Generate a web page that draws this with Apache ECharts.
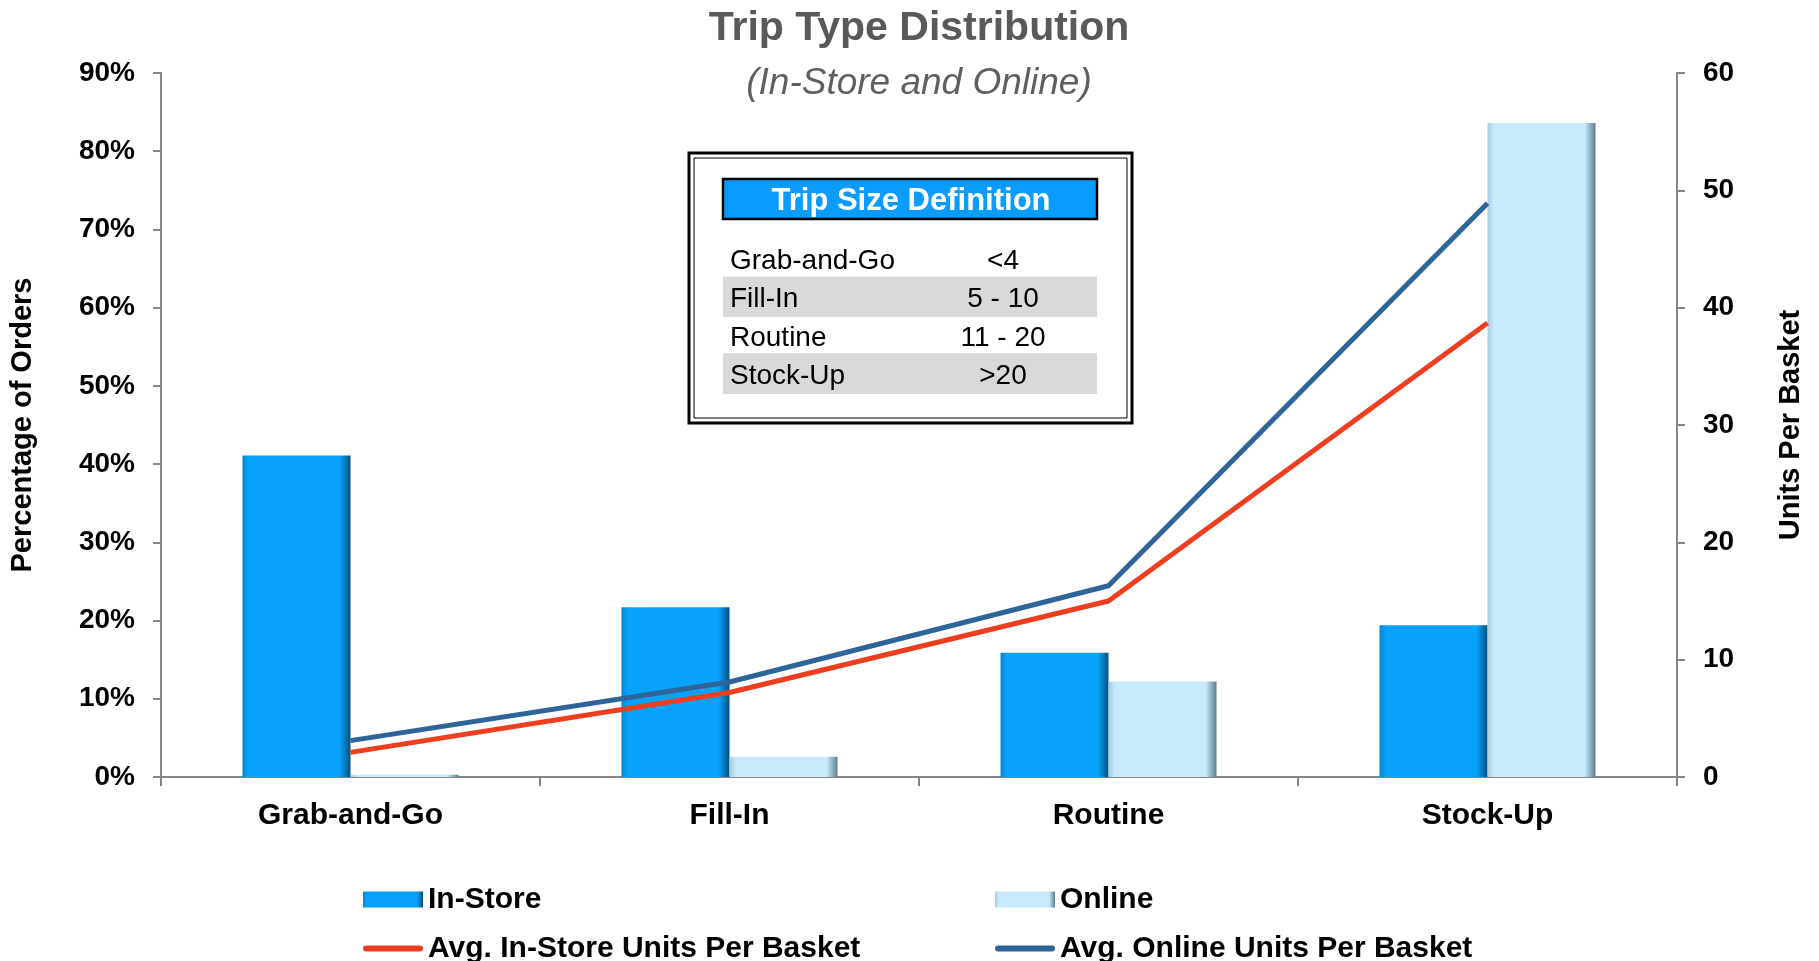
<!DOCTYPE html>
<html>
<head>
<meta charset="utf-8">
<script src="https://cdn.jsdelivr.net/npm/echarts@6/dist/echarts.min.js"></script>
<style>
  html, body { margin: 0; padding: 0; background: #ffffff; }
  #chart { width: 1819px; height: 961px; }
</style>
</head>
<body>
<div id="chart"></div>
<script>
// ---- Data ----
var categories = ['Grab-and-Go', 'Fill-In', 'Routine', 'Stock-Up'];
var inStorePct = [41.1, 21.7, 15.9, 19.4];
var onlinePct = [0.3, 2.6, 12.2, 83.6];
var inStoreUnits = [2.1, 7.2, 15.0, 38.7];
var onlineUnits = [3.1, 8.1, 16.3, 48.9];
var leftTicks = { min: 0, max: 90, interval: 10 };
var rightTicks = { min: 0, max: 60, interval: 10 };
var tripRanges = ['<4', '5 - 10', '11 - 20', '>20'];

var FONT = '"Liberation Sans", Arial, sans-serif';

var chart = echarts.init(document.getElementById('chart'));

function grad(c0, c1, c2) {
  return new echarts.graphic.LinearGradient(0, 0, 1, 0, [
    { offset: 0, color: c0 },
    { offset: 0.06, color: c1 },
    { offset: 0.9, color: c1 },
    { offset: 1, color: c2 }
  ]);
}

// line legend icon: thin rounded bar centred in the 60x16 icon box
var LINE_ICON = 'path://M0 0h0.01v0.01H0z M3 5h54a3 3 0 0 1 0 6h-54a3 3 0 0 1 0-6z M59.99 15.99h0.01v0.01h-0.01z';

// table graphic
var tbl = [];
tbl.push({ type: 'rect', shape: { x: 689, y: 153, width: 443, height: 270 },
  style: { fill: '#ffffff', stroke: '#000000', lineWidth: 3 }, z: 10 });
tbl.push({ type: 'rect', shape: { x: 694, y: 158, width: 433, height: 260 },
  style: { fill: 'none', stroke: '#000000', lineWidth: 1 }, z: 11 });
tbl.push({ type: 'rect', shape: { x: 723, y: 179, width: 374, height: 40 },
  style: { fill: '#0A9BFF', stroke: '#000000', lineWidth: 2.5 }, z: 11 });
tbl.push({ type: 'text', x: 911, y: 201, z: 12,
  style: { text: 'Trip Size Definition', fill: '#ffffff', font: 'bold 31px ' + FONT,
    textAlign: 'center', textVerticalAlign: 'middle' } });
for (var i = 0; i < categories.length; i++) {
  var cy = 258.5 + i * 38.4;
  if (i % 2 === 1) {
    tbl.push({ type: 'rect', shape: { x: 723, y: cy - 20.5, width: 374, height: 40.7 },
      style: { fill: '#D9D9D9' }, z: 11 });
  }
  tbl.push({ type: 'text', x: 730, y: cy + 2.5, z: 12,
    style: { text: categories[i], fill: '#000000', font: '28px ' + FONT,
      textAlign: 'left', textVerticalAlign: 'middle' } });
  tbl.push({ type: 'text', x: 1003, y: cy + 2.5, z: 12,
    style: { text: tripRanges[i], fill: '#000000', font: '28px ' + FONT,
      textAlign: 'center', textVerticalAlign: 'middle' } });
}

var legendText = { fontFamily: FONT, fontSize: 30, fontWeight: 'bold', color: '#000', lineHeight: 31 };

var option = {
  backgroundColor: '#ffffff',
  animation: false,
  title: {
    text: 'Trip Type Distribution',
    subtext: '(In-Store and Online)',
    left: 914,
    textAlign: 'center',
    top: 1,
    itemGap: 11,
    textStyle: { fontFamily: FONT, fontSize: 41, fontWeight: 'bold', color: '#595959', lineHeight: 46 },
    subtextStyle: { fontFamily: FONT, fontSize: 37, fontStyle: 'italic', color: '#5f5f5f', lineHeight: 42 }
  },
  legend: [
    {
      orient: 'vertical', left: 363, top: 884, height: 120, padding: 0, itemGap: 18,
      itemWidth: 60, itemHeight: 16, textStyle: legendText,
      data: [{ name: 'In-Store', icon: 'rect' }, { name: 'Avg. In-Store Units Per Basket', icon: LINE_ICON }]
    },
    {
      orient: 'vertical', left: 995, top: 884, height: 120, padding: 0, itemGap: 18,
      itemWidth: 60, itemHeight: 16, textStyle: legendText,
      data: [{ name: 'Online', icon: 'rect' }, { name: 'Avg. Online Units Per Basket', icon: LINE_ICON }]
    }
  ],
  grid: { left: 159, right: 142, top: 73, bottom: 184, containLabel: false },
  xAxis: {
    type: 'category',
    data: categories,
    boundaryGap: true,
    axisLine: { lineStyle: { color: '#858585', width: 2 } },
    axisTick: { show: true, length: 9, alignWithLabel: false, lineStyle: { color: '#858585', width: 2 } },
    axisLabel: { margin: 24, fontFamily: FONT, fontSize: 30, fontWeight: 'bold', color: '#000' },
    splitLine: { show: false }
  },
  yAxis: [
    {
      type: 'value', position: 'left',
      min: leftTicks.min, max: leftTicks.max, interval: leftTicks.interval,
      name: 'Percentage of Orders', nameLocation: 'middle', nameRotate: 90, nameGap: 124,
      nameTextStyle: { fontFamily: FONT, fontSize: 29, fontWeight: 'bold', color: '#000' },
      axisLine: { show: true, lineStyle: { color: '#858585', width: 2 } },
      axisTick: { show: true, length: 8, lineStyle: { color: '#858585', width: 2 } },
      axisLabel: { margin: 26, fontFamily: FONT, fontSize: 28, fontWeight: 'bold', color: '#000',
        formatter: '{value}%' },
      splitLine: { show: false }
    },
    {
      type: 'value', position: 'right',
      min: rightTicks.min, max: rightTicks.max, interval: rightTicks.interval,
      name: 'Units Per Basket', nameLocation: 'middle', nameRotate: 90, nameGap: 99,
      nameTextStyle: { fontFamily: FONT, fontSize: 29, fontWeight: 'bold', color: '#000' },
      axisLine: { show: true, lineStyle: { color: '#858585', width: 2 } },
      axisTick: { show: true, length: 8, lineStyle: { color: '#858585', width: 2 } },
      axisLabel: { margin: 26, fontFamily: FONT, fontSize: 28, fontWeight: 'bold', color: '#000' },
      splitLine: { show: false }
    }
  ],
  series: [
    {
      name: 'In-Store', type: 'bar', yAxisIndex: 0, data: inStorePct,
      barWidth: 108, barGap: '0%',
      itemStyle: { color: grad('#0785D2', '#08A2FA', '#03507F') },
      z: 2
    },
    {
      name: 'Online', type: 'bar', yAxisIndex: 0, data: onlinePct,
      barWidth: 108, barGap: '0%',
      itemStyle: { color: grad('#A7CBDC', '#C7EBFC', '#5E7B8D') },
      z: 2
    },
    {
      name: 'Avg. In-Store Units Per Basket', type: 'line', yAxisIndex: 1, data: inStoreUnits,
      symbol: 'none', lineStyle: { color: '#EF3D1F', width: 5 }, itemStyle: { color: '#EF3D1F' },
      z: 5
    },
    {
      name: 'Avg. Online Units Per Basket', type: 'line', yAxisIndex: 1, data: onlineUnits,
      symbol: 'none', lineStyle: { color: '#2E6497', width: 5 }, itemStyle: { color: '#2E6497' },
      z: 6
    }
  ],
  graphic: tbl
};

chart.setOption(option);
</script>
</body>
</html>
